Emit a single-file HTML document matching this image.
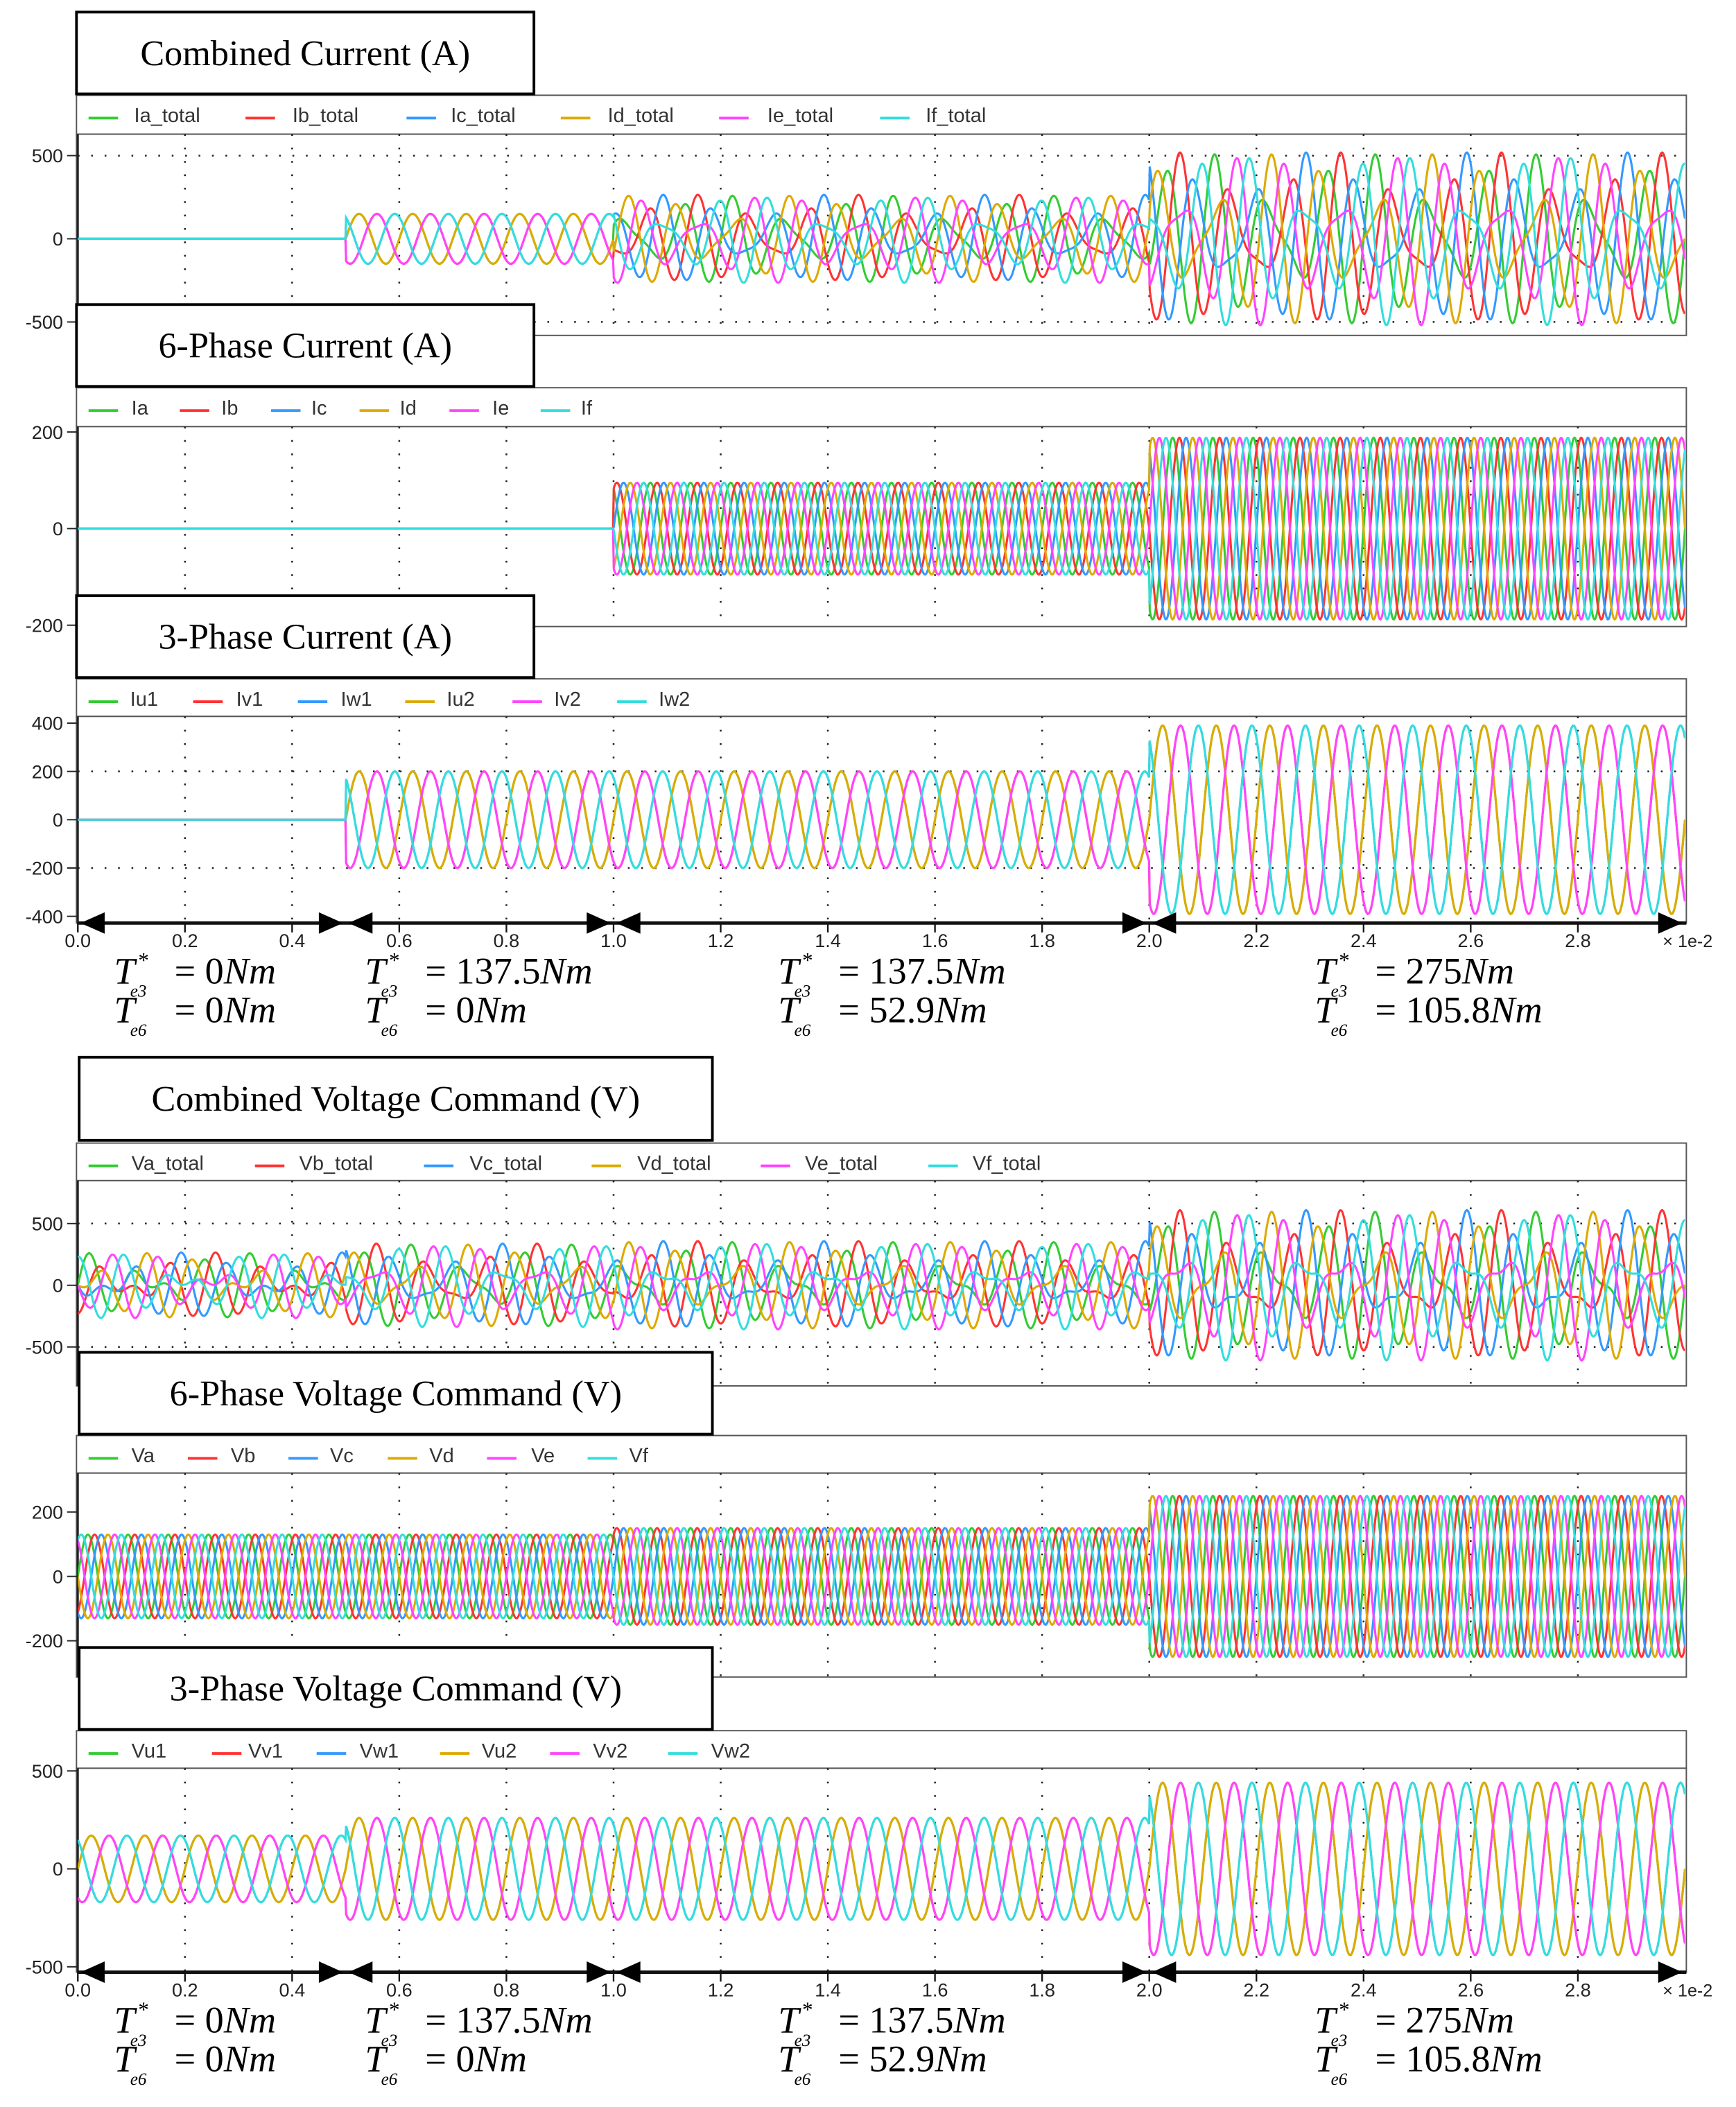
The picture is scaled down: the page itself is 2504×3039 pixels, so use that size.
<!DOCTYPE html>
<html><head><meta charset="utf-8"><style>
html,body{margin:0;padding:0;background:#fff;}
svg{display:block;}
</style></head><body>
<svg id="s" xmlns="http://www.w3.org/2000/svg" width="2504" height="3039" viewBox="0 0 1294 1570.5" font-family="Liberation Sans, sans-serif">
<rect width="1294" height="1571" fill="#fff"/>
<g id="g"></g>
</svg>
<script>
const NS="http://www.w3.org/2000/svg";
const g=document.getElementById('g');
function el(t,a,txt){const e=document.createElementNS(NS,t);for(const k in a)e.setAttribute(k,a[k]);if(txt!==undefined)e.textContent=txt;g.appendChild(e);return e;}
const X0=58,X1=1256;
const tx=t=>X0+(X1-X0)*t/3.0;
const COL=['#33cc33','#ff3333','#3399ff','#ddaa00','#ff44ff','#33dddd'];
const P=2*Math.PI;
const w1=P/0.1, w2=P/0.075;
function seg(t,a){return t<0.5?a[0]:t<1?a[1]:t<2?a[2]:a[3];}
const panels=[
 {title:'Combined Current (A)',tb:[57,9,398,70],lg:71,top:100,bot:250,z:178,ref:[500,116],ticks:[[500,'500'],[0,'0'],[-500,'-500']],dots:[500,-500],
  leg:[['Ia_total',66,100],['Ib_total',183,218],['Ic_total',303,336],['Id_total',418,453],['Ie_total',536,572],['If_total',656,690]],
  f:(t,k)=>seg(t,[0,150,170,330])*Math.sin(w1*t-k*P/3)+seg(t,[0,0,95,190])*Math.sin(w2*t-k*P/6)},
 {title:'6-Phase Current (A)',tb:[57,227,398,288],lg:289,top:318,bot:467,z:394,ref:[200,322],ticks:[[200,'200'],[0,'0'],[-200,'-200']],dots:[],
  leg:[['Ia',66,98],['Ib',134,165],['Ic',202,232],['Id',268,298],['Ie',335,367],['If',403,433]],
  f:(t,k)=>seg(t,[0,0,95,188])*Math.sin(w2*t-k*P/6)},
 {title:'3-Phase Current (A)',tb:[57,444,398,505],lg:506,top:534,bot:688,z:611,ref:[200,575],ticks:[[400,'400'],[200,'200'],[0,'0'],[-200,'-200'],[-400,'-400']],dots:[200,-200],
  leg:[['Iu1',66,97],['Iv1',144,176],['Iw1',222,254],['Iu2',302,333],['Iv2',382,413],['Iw2',460,491]],
  f:(t,k)=>seg(t,[0,200,200,390])*Math.sin(w1*t-(k%3)*P/3),axis:688},
 {title:'Combined Voltage Command (V)',tb:[59,788,531,850],lg:852,top:880,bot:1033,z:958,ref:[500,912],ticks:[[500,'500'],[0,'0'],[-500,'-500']],dots:[500,-500],
  leg:[['Va_total',66,98],['Vb_total',190,223],['Vc_total',316,350],['Vd_total',441,475],['Ve_total',567,600],['Vf_total',692,725]],
  f:(t,k)=>seg(t,[170,260,260,450])*0.8*Math.sin(w1*t-k*P/3)+seg(t,[130,130,150,250])*Math.sin(w2*t-k*P/6)},
 {title:'6-Phase Voltage Command (V)',tb:[59,1008,531,1069],lg:1070,top:1098,bot:1250,z:1175,ref:[200,1127],ticks:[[200,'200'],[0,'0'],[-200,'-200']],dots:[],
  leg:[['Va',66,98],['Vb',140,172],['Vc',215,246],['Vd',289,320],['Ve',363,396],['Vf',438,469]],
  f:(t,k)=>seg(t,[130,130,150,250])*Math.sin(w2*t-k*P/6)},
 {title:'3-Phase Voltage Command (V)',tb:[59,1228,531,1289],lg:1290,top:1318,bot:1470,z:1393,ref:[500,1320],ticks:[[500,'500'],[0,'0'],[-500,'-500']],dots:[],
  leg:[['Vu1',66,98],['Vv1',158,185],['Vw1',236,268],['Vu2',328,359],['Vv2',410,442],['Vw2',498,530]],
  f:(t,k)=>seg(t,[170,260,260,440])*Math.sin(w1*t-(k%3)*P/3),axis:1470}
];
panels.forEach(p=>{
  const sc=(p.z-p.ref[1])/p.ref[0];
  const vy=v=>p.z-v*sc;
  el('rect',{x:57,y:p.lg,width:1200,height:p.top-p.lg,fill:'#fff',stroke:'#555','stroke-width':1});
  el('rect',{x:57,y:p.top,width:1200,height:p.bot-p.top,fill:'#fff',stroke:'#555','stroke-width':1});
  for(let i=1;i<15;i++){const x=tx(i*0.2);el('line',{x1:x,y1:p.top,x2:x,y2:p.bot,stroke:'#222','stroke-width':1.3,'stroke-dasharray':'1.3 8.7'});}
  p.dots.forEach(v=>el('line',{x1:X0,y1:vy(v),x2:X1,y2:vy(v),stroke:'#222','stroke-width':1.3,'stroke-dasharray':'1.3 8.7'}));
  p.ticks.forEach(([v,s])=>{el('text',{x:47,y:vy(v)+5,'font-size':14,'text-anchor':'end',fill:'#222'},s);el('line',{x1:50,y1:vy(v),x2:58,y2:vy(v),stroke:'#222'});});
  el('line',{x1:58,y1:p.top,x2:58,y2:p.bot,stroke:'#222','stroke-width':1.5});
  p.leg.forEach(([s,lx,tx2],k)=>{el('line',{x1:lx,y1:p.lg+17,x2:lx+22,y2:p.lg+17,stroke:COL[k],'stroke-width':2});el('text',{x:tx2,y:p.lg+20,'font-size':15,fill:'#333'},s);});
  const clipId='c'+p.top;
  const cp=document.createElementNS(NS,'clipPath');cp.setAttribute('id',clipId);
  const cr=document.createElementNS(NS,'rect');cr.setAttribute('x',58);cr.setAttribute('y',p.top);cr.setAttribute('width',1198);cr.setAttribute('height',p.bot-p.top);cp.appendChild(cr);g.appendChild(cp);
  for(let k=0;k<6;k++){
    let d='';
    for(let x=X0;x<=X1;x+=0.5){const t=(x-X0)/(X1-X0)*3.0;let v=p.f(t,k);
      d+=(d?'L':'M')+x.toFixed(1)+' '+vy(v).toFixed(1);}
    el('path',{d:d,fill:'none',stroke:COL[k],'stroke-width':1.6,'clip-path':'url(#'+clipId+')'});
  }
  const [a,b,c,dd]=p.tb;
  el('rect',{x:a,y:b,width:c-a,height:dd-b,fill:'#fff',stroke:'#000','stroke-width':2});
  el('text',{x:(a+c)/2,y:(b+dd)/2+9,'font-size':27,'text-anchor':'middle','font-family':'Liberation Serif, serif',fill:'#000'},p.title);
  if(p.axis){
    const y=p.axis;
    el('line',{x1:58,y1:y,x2:1257,y2:y,stroke:'#111','stroke-width':2.5});
    for(let i=0;i<=14;i++){const x=tx(i*0.2);el('line',{x1:x,y1:y,x2:x,y2:y+7,stroke:'#111','stroke-width':1.2});
      el('text',{x:x,y:y+18,'font-size':14,'text-anchor':'middle',fill:'#222'},(i*0.2).toFixed(1));}
    el('text',{x:1258,y:y+18,'font-size':13,'text-anchor':'middle',fill:'#222'},'\u00d7 1e-2');
    const segs=[[0,0.5],[0.5,1.0],[1.0,2.0],[2.0,3.0]];
    segs.forEach(([s,e])=>{const xa=tx(s)+2,xb=tx(e)-2;
      el('polygon',{points:`${xa},${y} ${xa+18},${y-8} ${xa+18},${y+8}`,fill:'#000'});
      el('polygon',{points:`${xb},${y} ${xb-18},${y-8} ${xb-18},${y+8}`,fill:'#000'});});
    const ann=[[85,'0','0'],[272,'137.5','0'],[580,'137.5','52.9'],[980,'275','105.8']];
    ann.forEach(([x,l1,l2])=>{
      [[l1,'e3',y+45],[l2,'e6',y+74]].forEach(([s,sub,yy],i)=>{
        const f='Liberation Serif, serif';
        el('text',{x:x,y:yy,'font-size':28,'font-family':f,'font-style':'italic',fill:'#000'},'T');
        el('text',{x:x+12,y:yy+10,'font-size':13,'font-family':f,'font-style':'italic',fill:'#000'},sub);
        if(i==0) el('text',{x:x+18,y:yy-12,'font-size':16,'font-family':f,fill:'#000'},'*');
        const eq=el('text',{x:x+45,y:yy,'font-size':28,'font-family':f,fill:'#000'},'= '+s);
        const ts=document.createElementNS(NS,'tspan');ts.setAttribute('font-style','italic');ts.textContent='Nm';eq.appendChild(ts);
      });
    });
  }
});
</script>
</body></html>
